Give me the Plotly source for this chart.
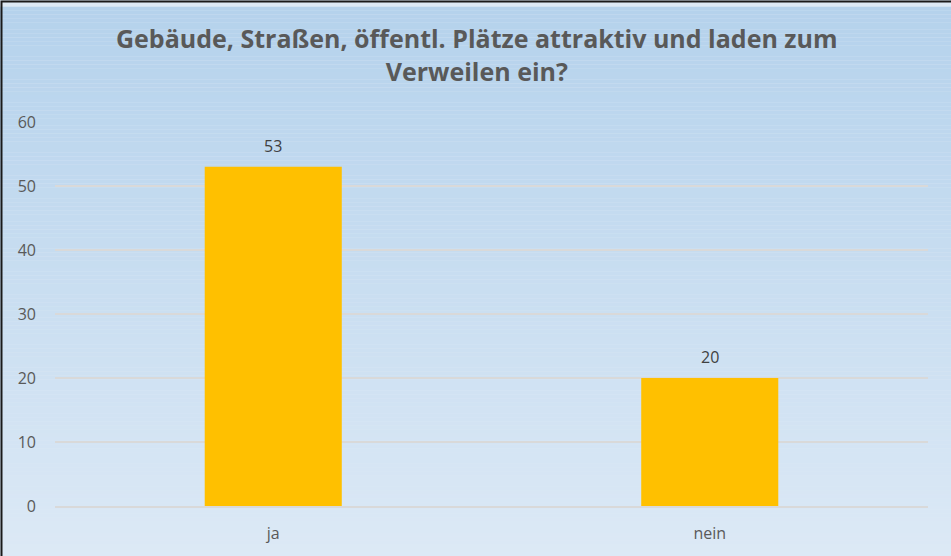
import plotly.graph_objects as go

categories = ["ja", "nein"]
values = [53, 20]
tick_vals = [0, 10, 20, 30, 40, 50, 60]

title = "Gebäude, Straßen, öffentl. Plätze attraktiv und laden zum<br>Verweilen ein?"

fig = go.Figure()
fig.add_trace(go.Bar(
    x=categories, y=values,
    marker=dict(color="#FFC000", line=dict(width=0)),
    hoverinfo="x+y",
))

# data labels
for c, v in zip(categories, values):
    fig.add_annotation(x=c, y=v, text=str(v), showarrow=False, yshift=21,
                       font=dict(family="Open Sans", size=16, color="#404040"))

# title as annotation
fig.add_annotation(xref="paper", yref="paper", x=0.483, y=1 + (122 - 55) / 384,
                   xanchor="center", yanchor="middle", showarrow=False,
                   text="<b>" + title + "</b>",
                   font=dict(family="Open Sans", size=25, color="#595959"))

# vertical gradient background
top = (181, 210, 236)
bot = (222, 234, 246)
n = 150
shapes = []
for i in range(n):
    t = i / (n - 1)
    col = tuple(round(top[k] + (bot[k] - top[k]) * t) for k in range(3))
    shapes.append(dict(type="rect", xref="paper", yref="paper",
                       x0=-0.1, x1=1.1, y0=1.3 - (i + 1) * (1.5 / n), y1=1.3 - i * (1.5 / n),
                       fillcolor="rgb(%d,%d,%d)" % col, line=dict(width=0), layer="below"))

fig.update_layout(
    width=951, height=556,
    margin=dict(l=55, r=23, t=122, b=50),
    paper_bgcolor="#dde9f5",
    plot_bgcolor="rgba(0,0,0,0)",
    shapes=shapes,
    bargap=0.686,
    showlegend=False,
    font=dict(family="Open Sans", color="#595959", size=16),
)
fig.update_yaxes(range=[0, 60], tickvals=tick_vals, showgrid=True, gridcolor="#d9d9d9",
                 gridwidth=1.5, zeroline=False, showline=False, ticks="", ticklabelstandoff=18,
                 tickfont=dict(size=16, color="#595959"), automargin=False)
fig.update_xaxes(showgrid=False, showline=True, linecolor="#d9d9d9", linewidth=1.5,
                 ticks="", ticklabelstandoff=12, tickfont=dict(size=16, color="#595959"),
                 automargin=False)

# outer border (only left and top edges are visible in the crop)
fig.add_shape(type="rect", xref="paper", yref="paper", x0=-53.5/873, x1=1 + 60/873,
              y0=-100/384, y1=1 + 120.5/384, line=dict(color="#1a1a1a", width=2),
              fillcolor="rgba(0,0,0,0)", layer="above")

fig.write_html("out.html", config={"displayModeBar": False},
               post_script="document.body.style.margin='0';")
